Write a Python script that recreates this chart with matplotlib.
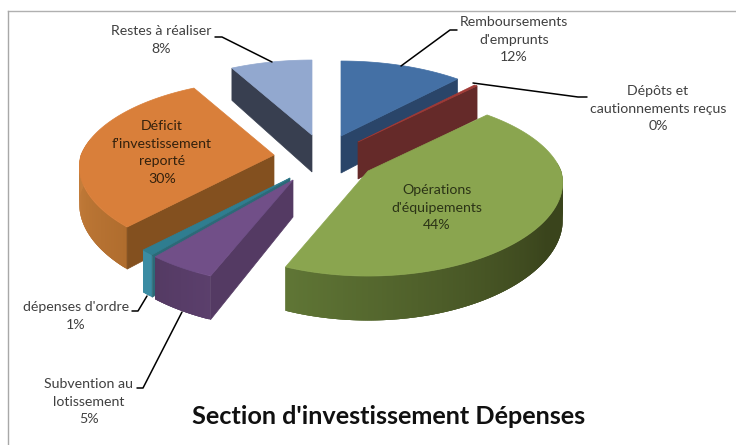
import matplotlib
matplotlib.use('Agg')
import matplotlib.pyplot as plt
from matplotlib.patches import Polygon
import matplotlib.colors as mcolors
import numpy as np

# Valeurs du camembert, dans l'ordre horaire depuis le haut
categories = ['Remboursements\nd\'emprunts', 'Dépôts et\ncautionnements reçus',
              'Opérations\nd\'équipements', 'Subvention au\nlotissement',
              'dépenses d\'ordre', 'Déficit\nf\'investissement\nreporté', 'Restes à réaliser']
values = [12, 0.3, 44, 5, 1, 30, 8]
percents = ['12%', '0%', '44%', '5%', '1%', '30%', '8%']

# Couleurs: dessus, coupe, cote clair, cote sombre
top_colors = ['#4470a5', '#a03a36', '#8aa54f', '#714f88', '#2f7d90', '#d97f3a', '#92a8cf']
cut_colors = ['#2a4569', '#652a29', '#5f7535', '#543a63', '#2c6a78', '#83501f', '#383f50']
side_a = ['#2a4569', '#652a29', '#3a441c', '#5b3f6c', '#3b8ca3', '#c77f3c', '#383f50']
side_b = ['#2a4569', '#652a29', '#5f7535', '#543a63', '#3b8ca3', '#b06d2e', '#383f50']

# Sommet de chaque part en pixels (parts eclatees)
apex_x = [341, 358, 368, 293, 290, 274, 312]
apex_y = [136, 142, 171, 180, 178, 155, 135]
draw_order = [6, 0, 1, 2, 5, 4, 3]

R = 193
RY = 87.5
PERSP_BACK = 0.18
PERSP_FRONT = 0.13
PERSP_Y = 0.167
THICK = 37


def project(theta):
    # angle en degres, horaire depuis le haut, avec perspective
    t = np.radians(theta)
    c = np.cos(t)
    sx = 1 / (1 + np.where(c > 0, PERSP_BACK, PERSP_FRONT) * c)
    sy = 1 / (1 + PERSP_Y * c)
    return R * np.sin(t) * sx, -RY * c * sy, sy


fig = plt.figure(figsize=(7.36, 4.45), dpi=100)
ax = fig.add_axes([0, 0, 1, 1])
ax.set_xlim(0, 736)
ax.set_ylim(445, 0)
ax.axis('off')

# Cadre de la capture
ax.plot([8, 736], [10.5, 10.5], color='#b0b0b0', lw=1)
ax.plot([8, 8], [10.5, 445], color='#a8a8a8', lw=1)

angles = np.concatenate([[0], np.cumsum(values) / np.sum(values) * 360])

for i in draw_order:
    a1, a2 = angles[i], angles[i + 1]
    cx, cy = apex_x[i], apex_y[i]
    th = np.linspace(a1, a2, max(int(a2 - a1) * 2, 4))
    dx, dy, s = project(th)

    # cote exterieur, en bandes qui se recouvrent pour le degrade
    c_a = np.array(mcolors.to_rgb(side_a[i]))
    c_b = np.array(mcolors.to_rgb(side_b[i]))
    for k in range(len(th) - 1):
        if th[k + 1] < 85 or th[k] > 280:
            continue
        f = np.clip((th[k] - 120) / 80, 0, 1) if i == 2 else (th[k] - a1) / (a2 - a1)
        if i == 5:
            f = 1 - np.clip((th[k] - a1) / 50, 0, 1)
        col = c_a + (c_b - c_a) * f
        m = min(k + 3, len(th) - 1)
        quad = list(zip(cx + dx[k:m + 1], cy + dy[k:m + 1])) + \
            list(zip(cx + dx[k:m + 1][::-1], (cy + dy[k:m + 1] + THICK * s[k:m + 1])[::-1]))
        ax.add_patch(Polygon(quad, closed=True, fc=col, ec='none'))

    # faces de coupe visibles
    for edge, normal in [(0, a1 - 90), (-1, a2 + 90)]:
        if np.cos(np.radians(normal)) < -0.01:
            quad = [(cx, cy), (cx + dx[edge], cy + dy[edge]),
                    (cx + dx[edge], cy + dy[edge] + THICK * s[edge]), (cx, cy + THICK)]
            ax.add_patch(Polygon(quad, closed=True, fc=cut_colors[i], ec=cut_colors[i], lw=0.5))

    # dessus
    pts = np.column_stack([np.concatenate([[cx], cx + dx]), np.concatenate([[cy], cy + dy])])
    ax.add_patch(Polygon(pts, closed=True, fc=top_colors[i], ec=top_colors[i], lw=0.5))

# Traits de rappel
leaders = {
    6: ([215, 222, 272], [37, 37, 62]),
    0: ([457, 450, 401], [30, 30, 66]),
    1: ([587, 578, 473], [97, 97, 83]),
    4: ([132, 138, 147], [311, 311, 296]),
    3: ([137, 143, 182], [388, 388, 312]),
}
for xs, ys in leaders.values():
    ax.plot(xs, ys, color='black', lw=1.1, solid_capstyle='round')

# Etiquettes: centre x, y du haut
label_pos = [(514, 16), (658, 85), (437, 184), (89, 378), (76, 301), (162, 120), (161, 25)]
label_col = ['#404040', '#404040', '#2b3316', '#404040', '#404040', '#33210d', '#404040']
for i, (lx, ly) in enumerate(label_pos):
    txt = categories[i] + '\n' + percents[i]
    ax.text(lx, ly, txt, ha='center', va='top', fontsize=10.2, family='Lato',
            color=label_col[i], linespacing=1.57)

ax.text(389, 417, 'Section d\'investissement Dépenses', ha='center', va='center',
        fontsize=18.2, fontweight='bold', family='Lato', color='#101010')

fig.savefig('out.png', dpi=100)
